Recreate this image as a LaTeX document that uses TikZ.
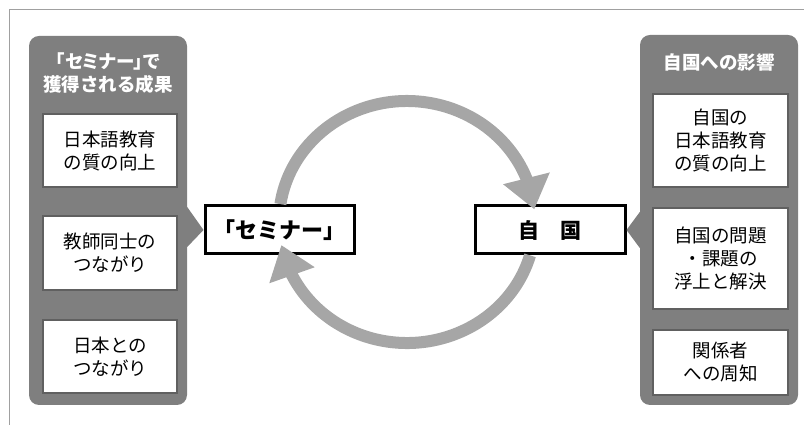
\documentclass[tikz,border=0pt]{standalone}
\usepackage{fontspec}
\setmainfont{Noto Sans CJK JP}
\newfontfamily\jpp[RawFeature=+palt]{Noto Sans CJK JP}
\usetikzlibrary{arrows.meta,bending}
\definecolor{panelgray}{HTML}{7F7F7F}
\definecolor{boxedge}{HTML}{606060}
\definecolor{cyc}{HTML}{A6A6A6}
\definecolor{framegray}{HTML}{A0A0A0}
\begin{document}
\begin{tikzpicture}[x=1pt,y=1pt,
  panel/.style={fill=panelgray, rounded corners=10pt, inner sep=0pt, minimum width=158pt},
  item/.style={draw=boxedge, line width=1.5pt, fill=white, inner sep=0pt, minimum width=134pt,
    align=center, font=\fontsize{18.5}{23}\selectfont},
  keybox/.style={draw=black, line width=3pt, fill=white, inner sep=0pt, minimum width=149pt,
    minimum height=48pt, font=\fontsize{22}{24}\selectfont\bfseries},
  ptitle/.style={text=white, align=center, font=\fontsize{18.5}{23}\selectfont\bfseries},
  loop/.style={draw=cyc, line width=12pt, -{Triangle[length=32pt,width=46pt,flex]}},
  pointer/.style={fill=panelgray}]
\useasboundingbox (0,0) rectangle (804,425);
% frame
\draw[framegray, line width=1pt] (9,0) -- (9,415) -- (804,415);
% panels
\node[panel, minimum height=369pt] (lp) at (108,204.5) {};
\node[panel, minimum height=370pt] (rp) at (719,205) {};
\node[ptitle] (lt) at (108,351.5) {{\jpp 「セミナー」で}\\獲得される成果};
\node[ptitle] (rt) at (719,363) {自国への影響};
% left items
\node[item, minimum height=73pt] (l1) at (110,274.5) {日本語教育\\の質の向上};
\node[item, minimum height=74pt] (l2) at (110,172) {教師同士の\\つながり};
\node[item, minimum height=73pt] (l3) at (110,68.5) {日本との\\つながり};
% right items
\node[item, minimum width=135pt, minimum height=93pt] (r1) at (720.5,284.5) {自国の\\日本語教育\\の質の向上};
\node[item, minimum width=135pt, minimum height=101pt] (r2) at (720.5,166.5) {自国の問題\\・課題の\\浮上と解決};
\node[item, minimum width=135pt, minimum height=65pt] (r3) at (720.5,62.5) {関係者\\への周知};
% key boxes
\node[keybox] (sem) at (279.5,195) {「セミナー」};
\node[keybox, minimum width=150pt, font=\fontsize{21}{24}\selectfont\bfseries] (jik) at (550,195) {自\hspace{1em}国};
% pointers
\fill[pointer] (lp.east |- 0,218) -- (sem.west) -- (lp.east |- 0,178) -- cycle;
\fill[pointer] (rp.west |- 0,213) -- (jik.east) -- (rp.west |- 0,177) -- cycle;
% cycle arrows
\coordinate (c) at (407,203);
\draw[loop] (c) ++(171.5:128pt and 121pt) arc[start angle=171.5, end angle=6, x radius=128pt, y radius=121pt];
\draw[loop] (c) ++(-16:128pt and 121pt) arc[start angle=-16, end angle=-169, x radius=128pt, y radius=121pt];
\end{tikzpicture}
\end{document}
